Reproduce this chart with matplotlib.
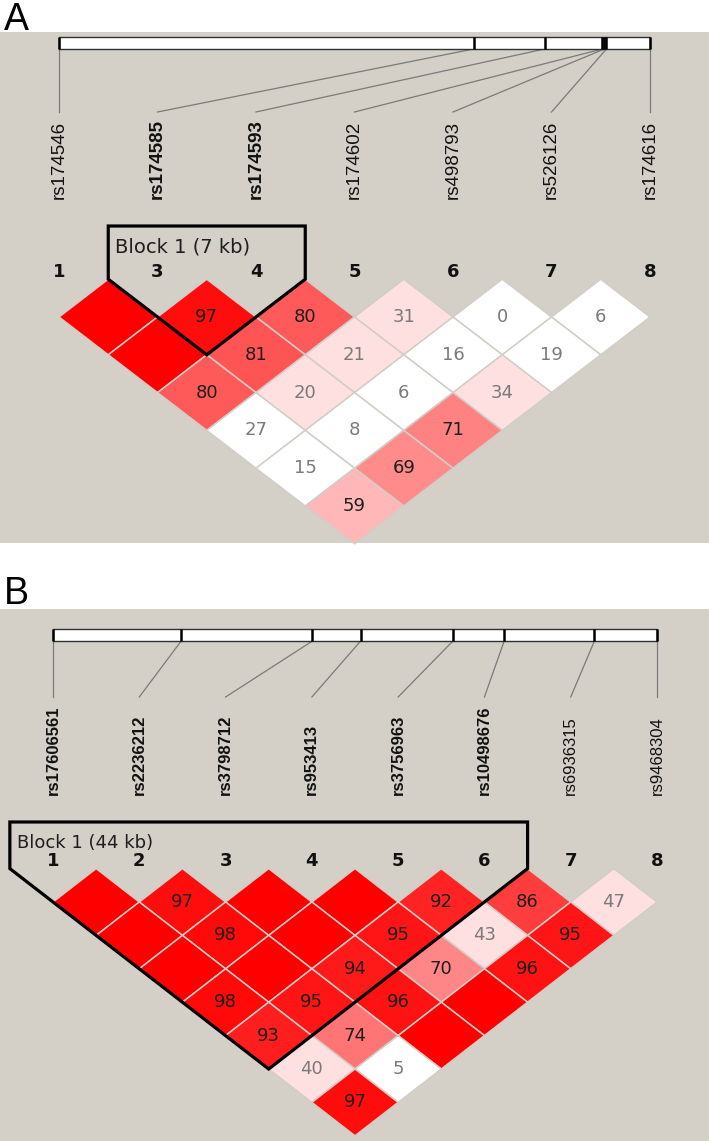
"""
LD plot (HaploView style) - two panels, A and B
"""
import numpy as np
import matplotlib
matplotlib.use("Agg")
import matplotlib.pyplot as plt
from matplotlib.patches import Polygon, Rectangle
from matplotlib.colors import LinearSegmentedColormap

# =========================================================
# DATA
# =========================================================
# panel A
a_snps = ["rs174546", "rs174585", "rs174593", "rs174602", "rs498793", "rs526126", "rs174616"]
a_bold = [False, True, True, False, False, False, False]
a_numbers = ["1", "3", "4", "5", "6", "7", "8"]
a_pos_kb = [0.0, 40.9, 47.9, 53.6, 53.8, 54.0, 58.3]
# D' x100, row k = pairs (i, i+k)
a_dprime = [
    [100, 97, 80, 31, 0, 6],
    [100, 81, 21, 16, 19],
    [80, 20, 6, 34],
    [27, 8, 71],
    [15, 69],
    [59],
]
# LOD >= 2 ?
a_lod = [
    [1, 1, 1, 1, 0, 0],
    [1, 1, 1, 0, 0],
    [1, 1, 0, 1],
    [0, 0, 1],
    [0, 1],
    [1],
]
a_block = (1, 2, "Block 1 (7 kb)")

# panel B
b_snps = ["rs17606561", "rs2236212", "rs3798712", "rs953413", "rs3756963",
          "rs10498676", "rs6936315", "rs9468304"]
b_bold = [True, True, True, True, True, True, False, False]
b_numbers = ["1", "2", "3", "4", "5", "6", "7", "8"]
b_pos_kb = [0.0, 12.5, 25.3, 30.0, 39.0, 44.0, 52.8, 58.9]
b_dprime = [
    [100, 97, 100, 100, 92, 86, 47],
    [100, 98, 100, 95, 43, 95],
    [100, 100, 94, 70, 96],
    [98, 95, 96, 100],
    [93, 74, 100],
    [40, 5],
    [97],
]
b_lod = [
    [1, 1, 1, 1, 1, 1, 1],
    [1, 1, 1, 1, 1, 1],
    [1, 1, 1, 1, 1],
    [1, 1, 1, 1],
    [1, 1, 1],
    [1, 0],
    [1],
]
b_block = (0, 5, "Block 1 (44 kb)")

# =========================================================
# LAYOUT (pixels, y down)
# =========================================================
BG = "#d4d0c8"
LAYOUT_A = dict(letter="A", letter_y=2, panel_top=32, panel_bot=543,
                x0=59, x1=650, bar_top=37, bar_bot=49, line_end=112,
                label_bot=199, label_fs=13.5, num_y=272, row1=317, hv=37.8,
                block_top=226, block_fs=14)
LAYOUT_B = dict(letter="B", letter_y=576, panel_top=609, panel_bot=1141,
                x0=53, x1=657, bar_top=629, bar_bot=641, line_end=697,
                label_bot=795, label_fs=12, num_y=861, row1=902, hv=33.4,
                block_top=822, block_fs=13)

cmap = LinearSegmentedColormap.from_list(
    "ld", [(0.0, "#ffe0e0"), (0.5, "#ffe0e0"), (1.0, "#ff0000")])


def draw_panel(ax, snps, bold, numbers, pos_kb, dprime, lod, block, L):
    n = len(snps)
    ax.add_patch(Rectangle((0, L["panel_top"]), 709, L["panel_bot"] - L["panel_top"],
                           facecolor=BG, edgecolor="none", zorder=0))
    ax.text(4, L["letter_y"], L["letter"], fontsize=27, family="Liberation Sans",
            ha="left", va="top", color="black")

    mx = np.linspace(L["x0"], L["x1"], n)
    pos = np.array(pos_kb)
    bx = L["x0"] + pos / pos[-1] * (L["x1"] - L["x0"])

    # physical map bar
    ax.add_patch(Rectangle((L["x0"], L["bar_top"]), L["x1"] - L["x0"],
                           L["bar_bot"] - L["bar_top"], facecolor="white",
                           edgecolor="#303030", lw=1.0, zorder=2))
    ax.vlines(bx, L["bar_top"], L["bar_bot"], color="black", lw=1.8, zorder=3)
    for i in range(n):
        ax.plot([bx[i], mx[i]], [L["bar_bot"], L["line_end"]], color="#7a7a7a",
                lw=0.9, zorder=1)
        ax.text(mx[i], L["label_bot"], snps[i], rotation=90, ha="center", va="bottom",
                fontsize=L["label_fs"], family="Liberation Sans",
                fontweight="bold" if bold[i] else "normal", color="#111111")
        ax.text(mx[i], L["num_y"], numbers[i], ha="center", va="center",
                fontsize=13, fontweight="bold", color="#111111")

    # LD diamonds
    hw = (mx[1] - mx[0]) / 2
    hv = L["hv"]
    for k in range(1, n):
        for i in range(n - k):
            j = i + k
            v = dprime[k - 1][i]
            sig = lod[k - 1][i]
            cx = (mx[i] + mx[j]) / 2
            cy = L["row1"] + (k - 1) * hv
            fc = cmap(v / 100) if sig else "white"
            ax.add_patch(Polygon([(cx, cy - hv), (cx + hw, cy), (cx, cy + hv), (cx - hw, cy)],
                                 closed=True, facecolor=fc, edgecolor="#d2cec7",
                                 lw=1.1, zorder=2))
            if v < 100:
                tc = "#1e1e1e" if (sig and v >= 50) else "#7a7a7a"
                ax.text(cx, cy, str(v), ha="center", va="center", fontsize=13,
                        color=tc, zorder=4)

    # haplotype block outline
    i0, i1, lab = block
    left = mx[i0] - hw
    right = mx[i1] + hw
    side = L["row1"] - hv
    tipx = (mx[i0] + mx[i1]) / 2
    tipy = L["row1"] + (i1 - i0) * hv
    ax.add_patch(Polygon([(left, side), (left, L["block_top"]), (right, L["block_top"]),
                          (right, side), (tipx, tipy)], closed=True, fill=False,
                         edgecolor="black", lw=2.3, zorder=5))
    ax.text(left + 7, L["block_top"] + 21, lab, ha="left", va="center",
            fontsize=L["block_fs"], color="#1e1e1e", zorder=5)


fig = plt.figure(figsize=(7.09, 11.41), dpi=100)
ax = fig.add_axes([0, 0, 1, 1])
ax.set_xlim(0, 709)
ax.set_ylim(1141, 0)
ax.axis("off")

draw_panel(ax, a_snps, a_bold, a_numbers, a_pos_kb, a_dprime, a_lod, a_block, LAYOUT_A)
draw_panel(ax, b_snps, b_bold, b_numbers, b_pos_kb, b_dprime, b_lod, b_block, LAYOUT_B)

fig.savefig("out.png", dpi=100, facecolor="white")
plt.close(fig)
